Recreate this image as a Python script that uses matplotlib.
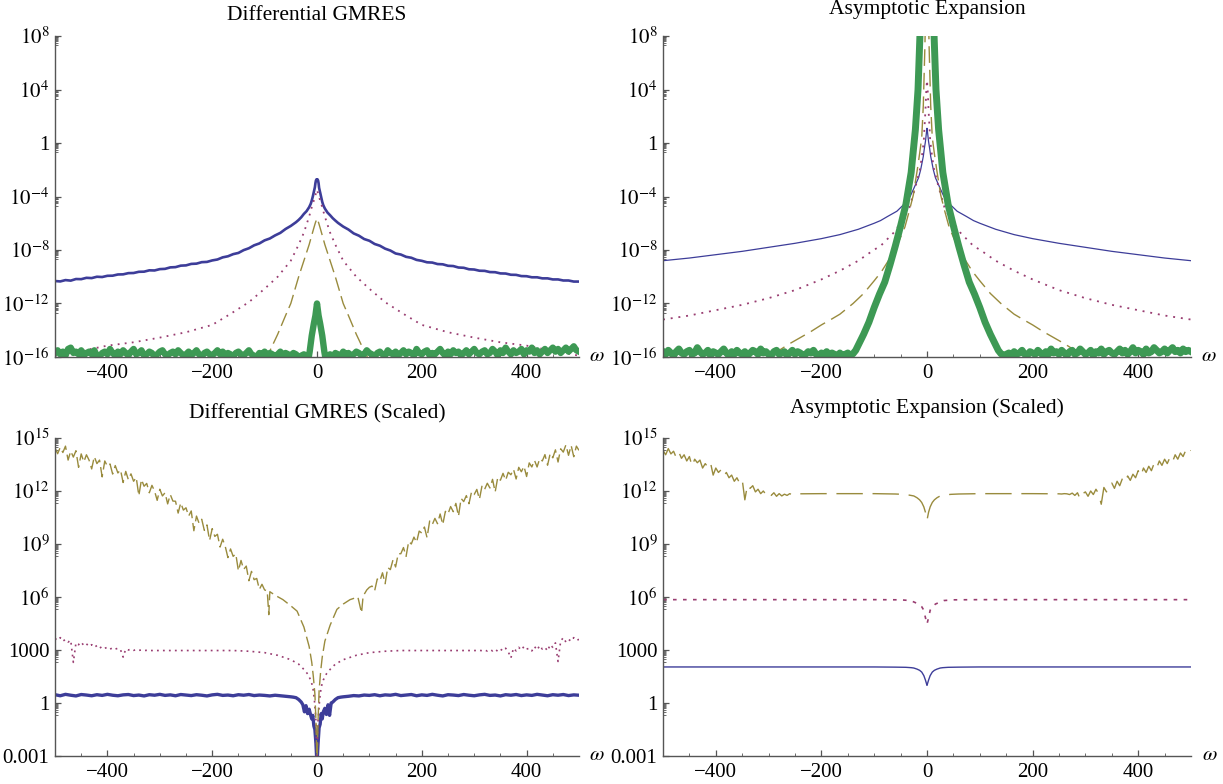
import numpy as np
import matplotlib
matplotlib.use("Agg")
import matplotlib.pyplot as plt
from matplotlib.ticker import FixedLocator, FixedFormatter, NullFormatter

plt.rcParams['font.family'] = ['Liberation Serif', 'DejaVu Serif']
plt.rcParams['mathtext.fontset'] = 'stix'
plt.rcParams['lines.scale_dashes'] = False
plt.rcParams['axes.unicode_minus'] = True

# ---------------- tick labels / titles ----------------
x_major = [-400, -200, 0, 200, 400]
x_labels = ['\u2212400', '\u2212200', '0', '200', '400']
x_minor = [-450, -350, -300, -250, -150, -100, -50, 50, 100, 150, 250, 300, 350, 450]
top_exp = [8, 4, 0, -4, -8, -12, -16]
top_labels = [r'$10^{8}$', r'$10^{4}$', '1', r'$10^{-4}$', r'$10^{-8}$', r'$10^{-12}$', r'$10^{-16}$']
bot_exp = [15, 12, 9, 6, 3, 0, -3]
bot_labels = [r'$10^{15}$', r'$10^{12}$', r'$10^{9}$', r'$10^{6}$', '1000', '1', '0.001']
titles = ['Differential GMRES', 'Asymptotic Expansion',
          'Differential GMRES (Scaled)', 'Asymptotic Expansion (Scaled)']

# ---------------- data (log10 of the plotted values) ----------------
# Top-left: Differential GMRES
tl_blue_x = np.concatenate([np.arange(-500, -59, 10),
                            [-50, -40, -35, -30, -25, -20, -15, -12, -10, -8, -6, -4, -3, -2, -1, 0,
                             1, 2, 3, 4, 6, 8, 10, 12, 15, 20, 25, 30, 35, 40, 50],
                            np.arange(60, 501, 10)])
tl_blue_y = np.array([
    -10.32, -10.35, -10.25, -10.29, -10.17, -10.18, -10.08, -10.10, -10.00, -10.02,
    -9.93, -9.92, -9.83, -9.82, -9.73, -9.72, -9.63, -9.62, -9.52, -9.53,
    -9.43, -9.41, -9.30, -9.28, -9.17, -9.15, -9.04, -9.02, -8.91, -8.89,
    -8.78, -8.71, -8.55, -8.47, -8.31, -8.22, -8.01, -7.87, -7.65, -7.51,
    -7.28, -7.14, -6.91, -6.72, -6.43,
    -6.2, -5.92, -5.75, -5.55, -5.3, -5.1, -4.8, -4.55, -4.3, -4.0, -3.65, -3.3, -3.0, -2.8, -2.72,
    -2.75,
    -2.72, -2.8, -3.0, -3.35, -3.7, -4.05, -4.4, -4.65, -4.9, -5.2, -5.4, -5.62, -5.8, -5.97, -6.25,
    -6.47, -6.76, -6.93, -7.18, -7.31, -7.55, -7.68, -7.90, -8.04, -8.26,
    -8.34, -8.51, -8.58, -8.74, -8.81, -8.92, -8.94, -9.05, -9.07, -9.18,
    -9.20, -9.31, -9.33, -9.44, -9.46, -9.55, -9.56, -9.65, -9.66, -9.75,
    -9.76, -9.85, -9.86, -9.95, -9.96, -10.04, -10.04, -10.12, -10.12, -10.20,
    -10.20, -10.28, -10.28, -10.36, -10.36])

tl_mag_x = [-500, -450, -400, -350, -300, -250, -200, -166, -130, -100, -75, -50, -35, -25, -15, -10, -6, -3, 0,
            3, 6, 10, 15, 25, 35, 50, 75, 100, 130, 166, 200, 250, 300, 350, 400, 450, 500]
tl_mag_y = [-15.9, -15.55, -15.15, -14.9, -14.55, -14.15, -13.6, -12.8, -11.9, -10.9, -10.0, -8.8, -7.6, -6.7,
            -5.5, -4.8, -4.3, -3.9, -3.5,
            -3.9, -4.3, -4.8, -5.5, -6.7, -7.6, -8.8, -10.0, -10.9, -11.9, -12.8, -13.6, -14.15, -14.55, -14.9,
            -15.15, -15.55, -15.9]

tl_olive_x = [-100, -90, -75, -60, -50, -35, -25, -15, -10, -6, -3, 0, 3, 6, 10, 15, 25, 35, 50, 60, 75, 90, 100]
tl_olive_y = [-16.3, -15.55, -14.3, -12.9, -12.0, -10.0, -8.8, -7.6, -6.9, -6.35, -5.95, -5.65,
              -5.95, -6.35, -6.9, -7.6, -8.8, -10.0, -12.0, -12.9, -14.3, -15.55, -16.3]

tl_green_x = np.concatenate([np.arange(-500, -19, 5),
                             [-17, -14, -10, -6, -3, 0, 3, 6, 10, 14, 17],
                             np.arange(20, 501, 5)])
tl_green_y = np.array([
    -15.7, -15.5, -15.8, -15.6, -15.9, -15.4, -15.3, -15.7, -15.6, -15.8,
    -15.5, -15.9, -15.7, -15.6, -15.8, -15.5, -15.9, -16.0, -15.7, -15.6,
    -15.8, -15.4, -15.7, -15.9, -15.6, -15.8, -15.5, -15.7, -15.9, -15.6,
    -15.4, -15.8, -15.7, -15.5, -15.9, -15.8, -15.6, -15.7, -16.0, -15.8,
    -15.6, -15.5, -15.8, -15.9, -15.7, -15.6, -15.8, -15.5, -15.7, -15.9,
    -15.8, -15.6, -15.9, -15.7, -15.5, -15.8, -16.0, -15.7, -15.6, -15.8,
    -15.9, -15.7, -15.5, -15.8, -15.6, -15.9, -15.7, -15.8, -16.0, -15.7,
    -15.6, -15.8, -15.9, -15.7, -15.5, -15.8, -15.9, -16.0, -15.7, -15.8,
    -15.6, -15.9, -15.7, -15.8, -16.0, -15.8, -15.6, -15.9, -15.7, -15.8,
    -15.9, -15.7, -15.8, -16.0, -15.9, -15.8, -15.9,
    -16.3, -15.6, -14.4, -13.5, -12.9, -12.0, -12.9, -13.5, -14.4, -15.6, -16.3,
    -15.9, -15.8, -16.0, -15.7, -15.8, -15.9, -15.6, -15.8, -15.7, -15.9,
    -15.8, -15.6, -15.7, -15.9, -15.8, -15.5, -15.7, -15.8, -16.0, -15.7,
    -15.6, -15.8, -15.9, -15.5, -15.7, -15.8, -15.6, -15.9, -15.7, -15.5,
    -15.8, -15.6, -15.7, -15.9, -15.4, -15.7, -15.8, -15.6, -15.5, -15.9,
    -15.7, -15.8, -15.6, -15.4, -15.7, -15.9, -15.6, -15.8, -15.5, -15.7,
    -15.6, -15.9, -15.7, -15.5, -15.8, -15.6, -15.4, -15.7, -15.8, -15.6,
    -15.5, -15.8, -15.7, -15.4, -15.6, -15.9, -15.5, -15.7, -15.3, -15.6,
    -15.8, -15.5, -15.7, -15.6, -15.4, -15.8, -15.5, -15.6, -15.3, -15.7,
    -15.5, -15.8, -15.6, -15.4, -15.7, -15.5, -15.3, -15.6, -15.4, -15.7,
    -15.5, -15.3, -15.6, -15.4, -15.2, -15.5, -15.6])

# Top-right: Asymptotic Expansion
tr_blue_x = [-500, -450, -400, -350, -300, -250, -200, -165, -130, -100, -88, -75, -57, -44, -32, -25, -16, -12,
             -7, -5, -3, -1, 0, 1, 3, 5, 7, 12, 16, 25, 32, 44, 57, 75, 88, 100, 130, 165, 200, 250, 300, 350,
             400, 450, 500]
tr_blue_y = [-8.8, -8.6, -8.35, -8.1, -7.8, -7.5, -7.15, -6.85, -6.45, -6.0, -5.8, -5.5, -5.1, -4.6, -4.0, -3.4,
             -2.6, -2.0, -1.0, -0.4, 0.1, 0.8, 1.1, 0.8, 0.1, -0.4, -1.0, -2.0, -2.6, -3.4, -4.0, -4.6, -5.1,
             -5.5, -5.8, -6.0, -6.45, -6.85, -7.15, -7.5, -7.8, -8.1, -8.35, -8.6, -8.8]

tr_mag_x = [-500, -450, -400, -350, -300, -250, -200, -165, -130, -101, -88, -63, -45, -33, -22, -13, -9, -6, -5,
            -3, -1.5, 0, 1.5, 3, 5, 6, 9, 13, 22, 33, 45, 63, 88, 101, 130, 165, 200, 250, 300, 350, 400, 450, 500]
tr_mag_y = [-13.2, -12.9, -12.5, -12.1, -11.6, -11.0, -10.2, -9.55, -8.8, -8.0, -7.7, -6.7, -5.7, -4.8, -3.3,
            -1.9, -0.8, 0.2, 1.0, 2.4, 3.8, 4.7, 3.8, 2.4, 1.0, 0.2, -0.8, -1.9, -3.3, -4.8, -5.7, -6.7, -7.7,
            -8.0, -8.8, -9.55, -10.2, -11.0, -11.6, -12.1, -12.5, -12.9, -13.2]

tr_olive_x = [-295, -280, -260, -240, -220, -200, -180, -165, -140, -120, -100, -86, -70, -55, -42, -33, -26, -18,
              -14, -10, -7, -4, -2, 0, 2, 4, 7, 10, 14, 18, 26, 33, 42, 55, 70, 86, 100, 120, 140, 165, 180, 200,
              220, 240, 260, 280, 295]
tr_olive_y = [-16.0, -15.5, -15.0, -14.55, -14.1, -13.6, -13.15, -12.8, -12.0, -11.25, -10.3, -9.6, -8.6, -7.5,
              -6.3, -5.0, -3.9, -1.9, -0.8, 0.4, 2.8, 7.2, 11.0, 14.0, 11.0, 7.2, 2.8, 0.4, -0.8, -1.9, -3.9,
              -5.0, -6.3, -7.5, -8.6, -9.6, -10.3, -11.25, -12.0, -12.8, -13.15, -13.6, -14.1, -14.55, -15.0,
              -15.5, -16.0]

tr_green_x = np.concatenate([np.arange(-500, -144, 5),
                             [-140, -135, -130, -120, -110, -100, -90, -80, -70, -60, -50, -40, -30, -22, -17,
                              -13, -9, -5, 0, 5, 9, 13, 17, 22, 30, 40, 50, 60, 70, 80, 90, 100, 110, 120, 130,
                              135, 140],
                             np.arange(145, 501, 5)])
tr_green_y = np.array([
    -15.6, -15.8, -15.5, -15.7, -15.9, -15.6, -15.4, -15.7, -15.8, -15.6,
    -15.5, -15.8, -15.7, -15.3, -15.6, -15.8, -15.7, -15.5, -15.9, -15.6,
    -15.7, -15.8, -15.6, -15.4, -15.7, -15.9, -15.6, -15.8, -15.5, -15.7,
    -15.8, -15.6, -15.9, -15.7, -15.5, -15.6, -15.8, -15.4, -15.7, -15.6,
    -15.8, -15.9, -15.6, -15.5, -15.8, -15.7, -15.6, -15.9, -15.7, -15.5,
    -15.8, -15.6, -15.7, -15.9, -15.8, -15.6, -15.7, -15.5, -15.8, -15.9,
    -15.7, -15.8, -15.6, -15.9, -15.7, -15.8, -16.0, -15.7, -15.9, -15.8,
    -15.7, -15.9,
    -15.75, -15.5, -15.1, -14.3, -13.4, -12.3, -11.3, -10.4, -9.1, -7.7, -6.2, -4.6, -2.2, 1.0, 4.0,
    8.4, 13.0, 18.0, 22.0, 18.0, 13.0, 8.4, 4.0, 1.0, -2.2, -4.6, -6.2, -7.7, -9.1, -10.4, -11.3, -12.3,
    -13.4, -14.3, -15.1, -15.5, -15.75,
    -15.9, -15.8, -15.7, -15.9, -15.6, -15.8, -15.7, -15.5, -15.8, -15.9,
    -15.6, -15.7, -15.8, -15.5, -15.7, -15.9, -15.6, -15.8, -15.4, -15.7,
    -15.6, -15.8, -15.5, -15.7, -15.9, -15.6, -15.5, -15.8, -15.7, -15.4,
    -15.6, -15.8, -15.7, -15.5, -15.9, -15.6, -15.7, -15.4, -15.8, -15.6,
    -15.5, -15.7, -15.8, -15.6, -15.4, -15.7, -15.5, -15.8, -15.6, -15.3,
    -15.7, -15.5, -15.6, -15.8, -15.4, -15.7, -15.6, -15.3, -15.5, -15.7,
    -15.6, -15.4, -15.7, -15.5, -15.3, -15.6, -15.5, -15.7, -15.4, -15.6,
    -15.5, -15.6])

# Bottom-left: Differential GMRES (Scaled)
bl_blue_x = np.concatenate([np.arange(-500, -59, 10),
                            [-50, -45, -40, -35, -30, -27, -24, -21, -18, -15, -12, -10, -8, -6, -4, -2, 0,
                             2, 4, 6, 8, 10, 12, 15, 18, 21, 24, 27, 30, 35, 40, 45, 50],
                            np.arange(60, 501, 10)])
bl_blue_y = np.array([
    0.47, 0.41, 0.49, 0.44, 0.40, 0.48, 0.45, 0.41, 0.47, 0.43,
    0.49, 0.44, 0.41, 0.46, 0.48, 0.42, 0.45, 0.40, 0.47, 0.44,
    0.49, 0.43, 0.46, 0.41, 0.48, 0.45, 0.42, 0.47, 0.44, 0.40,
    0.46, 0.49, 0.43, 0.45, 0.41, 0.47, 0.44, 0.48, 0.42, 0.45,
    0.43, 0.40, 0.44, 0.41, 0.38,
    0.35, 0.33, 0.3, 0.2, 0.05, -0.1, -0.5, -0.15, -0.6, -0.35, -0.7, -0.9, -0.7, -1.3, -1.5, -2.3, -3.5,
    -2.3, -1.4, -1.2, -0.6, -0.9, -0.5, -0.3, -0.65, -0.1, -0.7, 0.0, 0.05, 0.2, 0.3, 0.33, 0.35,
    0.38, 0.42, 0.40, 0.45, 0.43, 0.47, 0.41, 0.46, 0.44, 0.49,
    0.42, 0.45, 0.48, 0.41, 0.46, 0.43, 0.49, 0.44, 0.40, 0.47,
    0.45, 0.42, 0.48, 0.44, 0.41, 0.46, 0.49, 0.43, 0.45, 0.40,
    0.47, 0.44, 0.48, 0.42, 0.46, 0.43, 0.49, 0.45, 0.41, 0.47,
    0.44, 0.48, 0.42, 0.46, 0.44])

bl_mag_x = np.concatenate([np.arange(-500, -300, 5),
                           [-300, -250, -200, -160, -130, -100, -75, -50, -35, -25, -18, -12, -8, -5, -2, 0,
                            2, 5, 8, 12, 18, 25, 35, 50, 75, 100, 130, 160, 200, 250, 300],
                           np.arange(305, 501, 5)])
bl_mag_y = np.array([
    3.65, 3.55, 3.70, 3.50, 3.60, 3.45, 3.55, 2.30, 3.40, 3.30,
    3.45, 3.25, 3.35, 3.20, 3.30, 3.15, 3.25, 3.10, 3.20, 3.10,
    3.15, 3.05, 3.12, 3.05, 3.10, 3.02, 2.60, 3.05, 3.00, 3.05,
    2.98, 3.02, 2.98, 3.00, 2.97, 2.98, 2.97, 2.97, 2.97, 2.97,
    2.97, 2.97, 2.97, 2.97, 2.93, 2.85, 2.7, 2.45, 2.2, 1.9, 1.65, 1.3, 0.9, 0.2, -1.0, -3.5,
    -1.0, 0.2, 0.9, 1.3, 1.65, 1.9, 2.2, 2.45, 2.7, 2.85, 2.93, 2.97, 2.97, 2.97, 2.97,
    2.97, 2.98, 2.96, 3.00, 2.94, 3.02, 2.95, 3.05, 2.92, 3.05,
    2.95, 3.10, 2.90, 2.55, 3.10, 2.95, 3.15, 3.00, 3.20, 3.05,
    3.10, 2.95, 3.20, 3.00, 3.25, 3.05, 3.15, 2.95, 3.30, 3.15,
    3.40, 2.35, 3.50, 3.70, 3.45, 3.60, 3.50, 3.70, 3.55, 3.60])

bl_olive_x = np.concatenate([np.arange(-500, -99, 5),
                             [-95, -92, -90, -80, -65, -50, -38, -25, -15, -10, -7, -4, -2, 0,
                              2, 4, 7, 10, 15, 25, 38, 50, 63, 78, 85, 88, 95],
                             np.arange(100, 501, 5)])
bl_olive_y = np.array([
    14.45, 14.11, 14.47, 14.18, 14.54, 13.75, 14.26, 13.92, 14.28, 13.34,
    14.10, 13.65, 14.05, 13.75, 13.25, 13.95, 13.55, 13.75, 12.80, 13.70,
    13.40, 13.53, 12.96, 13.44, 13.02, 13.20, 12.48, 13.11, 12.64, 12.97,
    12.55, 12.77, 11.73, 12.65, 12.27, 12.43, 11.90, 12.32, 12.00, 11.47,
    12.10, 11.72, 11.90, 11.27, 11.80, 11.43, 11.42, 10.75, 11.33, 10.92,
    11.05, 10.58, 10.87, 9.75, 10.58, 10.17, 10.40, 9.77, 10.08, 9.20,
    9.87, 9.43, 9.55, 8.83, 9.27, 8.85, 8.23, 8.72, 8.30, 8.44,
    7.48, 8.07, 7.56, 7.75, 6.92, 7.45, 6.98, 7.05, 6.43, 6.72,
    6.40,
    6.35, 5.0, 6.3, 6.1, 5.85, 5.5, 5.2, 4.3, 3.2, 2.3, 1.5, 0.5, -1.0, -3.5,
    -1.0, 0.7, 1.8, 2.6, 3.5, 4.4, 5.3, 5.6, 5.85, 6.0, 5.1, 6.05, 6.4,
    6.55, 6.62, 6.35, 7.02, 6.90, 7.37, 6.75, 7.67, 7.55, 8.10,
    7.70, 8.45, 8.45, 8.80, 8.30, 9.15, 9.00, 9.39, 9.09, 9.73,
    9.62, 9.96, 9.36, 10.30, 10.10, 10.45, 10.15, 10.70, 10.10, 10.85,
    10.70, 11.12, 10.83, 11.30, 10.57, 11.58, 11.40, 11.74, 11.28, 11.96,
    11.80, 12.09, 11.53, 12.31, 12.10, 12.44, 12.17, 12.66, 11.94, 12.78,
    12.61, 13.00, 12.61, 13.06, 12.92, 13.23, 12.68, 13.34, 13.09, 13.40,
    12.82, 13.59, 13.36, 13.74, 13.36, 13.83, 13.70, 14.06, 13.46, 14.12,
    13.88, 14.33, 13.64, 14.39, 14.20, 14.61, 14.02, 14.58, 13.94, 14.54,
    14.30])

# Bottom-right: Asymptotic Expansion (Scaled)
br_blue_x = [-500, -300, -100, -60, -40, -30, -25, -19, -14, -10, -6, -3, -1, 0,
             1, 3, 6, 10, 14, 19, 25, 30, 40, 60, 100, 300, 500]
br_blue_y = [2.04, 2.04, 2.04, 2.03, 2.02, 2.0, 1.98, 1.92, 1.85, 1.75, 1.55, 1.3, 1.1, 1.0,
             1.1, 1.3, 1.55, 1.75, 1.85, 1.92, 1.98, 2.0, 2.02, 2.03, 2.04, 2.04, 2.04]

br_mag_x = [-500, -100, -50, -32, -25, -16, -10, -6, -3.5, -1.5, 0, 1.5, 3.5, 6, 10, 16, 25, 32, 50, 100, 500]
br_mag_y = [5.85, 5.85, 5.84, 5.8, 5.72, 5.6, 5.45, 5.25, 4.9, 4.65, 4.47, 4.65, 4.9, 5.25, 5.45, 5.6, 5.72,
            5.8, 5.84, 5.85, 5.85]

br_olive_x = np.concatenate([np.arange(-500, -249, 5),
                             [-245, -200, -150, -100, -60, -45, -36, -25, -19, -14, -10, -6, -3, -1, 0,
                              1, 3, 6, 10, 14, 19, 25, 36, 45, 60, 100, 150, 200, 245],
                             np.arange(250, 501, 5)])
br_olive_y = np.array([
    14.30, 14.05, 14.40, 14.10, 14.25, 13.90, 14.20, 13.85, 14.05, 13.70,
    13.95, 13.40, 13.80, 13.60, 13.75, 13.30, 13.55, 13.35, 13.60, 12.90,
    13.30, 13.05, 13.20, 12.85, 13.05, 12.75, 12.90, 12.55, 12.75, 12.45,
    12.65, 11.50, 12.35, 12.15, 12.30, 11.95, 12.10, 11.85, 12.00, 11.80,
    11.95, 11.75, 11.90, 11.70, 11.85, 11.72, 11.82, 11.75, 11.85, 11.78,
    11.84,
    11.84, 11.85, 11.85, 11.85, 11.83, 11.81, 11.78, 11.72, 11.62, 11.5, 11.35, 11.1, 10.8, 10.5, 10.35,
    10.5, 10.8, 11.1, 11.35, 11.5, 11.62, 11.72, 11.78, 11.81, 11.83, 11.85, 11.85, 11.85, 11.84,
    11.84, 11.83, 11.85, 11.84, 11.80, 11.88, 11.75, 11.90, 11.55, 11.85,
    11.95, 11.70, 12.00, 11.80, 12.10, 11.85, 11.25, 12.20, 11.95, 12.35,
    12.45, 12.15, 12.55, 12.30, 12.70, 12.50, 12.85, 12.60, 12.95, 12.75,
    13.15, 12.85, 13.30, 13.05, 13.40, 13.15, 13.55, 13.30, 13.70, 13.45,
    13.80, 13.55, 13.90, 13.65, 14.05, 13.80, 14.15, 13.95, 14.30, 14.10,
    14.30])

# ---------------- styling ----------------
BLUE = '#3D3D99'
MAG = '#993D71'
OLIVE = '#998B3D'
GREEN = '#3D9954'
AXC = '#555555'

W, H = 1223, 784
fig = plt.figure(figsize=(W / 100, H / 100), dpi=100)


def px_axes(left, top, right, bottom):
    return fig.add_axes([left / W, 1 - bottom / H, (right - left) / W, (bottom - top) / H])


ax_tl = px_axes(55, 36, 579, 357)
ax_tr = px_axes(663, 36, 1191, 357)
ax_bl = px_axes(55, 438, 579, 756)
ax_br = px_axes(663, 438, 1191, 756)


def style(ax, exps, labels, lo, hi):
    ax.set_xlim(-500, 500)
    ax.set_yscale('log')
    ax.set_ylim(10.0 ** lo, 10.0 ** hi)
    for s in ['top', 'right']:
        ax.spines[s].set_visible(False)
    for s in ['left', 'bottom']:
        ax.spines[s].set_color(AXC)
        ax.spines[s].set_linewidth(1.0)
    ax.xaxis.set_major_locator(FixedLocator(x_major))
    ax.xaxis.set_major_formatter(FixedFormatter(x_labels))
    ax.xaxis.set_minor_locator(FixedLocator(x_minor))
    ax.yaxis.set_major_locator(FixedLocator([10.0 ** e for e in exps]))
    ax.yaxis.set_major_formatter(FixedFormatter(labels))
    ax.yaxis.set_minor_locator(FixedLocator([j * 10.0 ** (e - 1) for e in exps for j in range(2, 10)]))
    ax.yaxis.set_minor_formatter(NullFormatter())
    ax.tick_params(which='major', direction='in', length=4.5, width=0.9, color=AXC,
                   labelsize=15, pad=4)
    ax.tick_params(axis='x', which='major', pad=5)
    ax.tick_params(which='minor', direction='in', length=2.3, width=0.6, color=AXC)
    ax.patch.set_alpha(0)


def L(v):
    return 10.0 ** np.asarray(v, dtype=float)


# top-left
ax_tl.plot(tl_blue_x, L(tl_blue_y), color=BLUE, lw=1.9)
ax_tl.plot(tl_mag_x, L(tl_mag_y), color=MAG, lw=1.3, ls=(0, (1.3, 3.8)))
ax_tl.plot(tl_olive_x, L(tl_olive_y), color=OLIVE, lw=1.0, ls=(0, (10, 4)))
ax_tl.plot(tl_green_x, L(tl_green_y), color=GREEN, lw=4.6, solid_joinstyle='round')
style(ax_tl, top_exp, top_labels, -16, 8)

# top-right
ax_tr.plot(tr_blue_x, L(tr_blue_y), color=BLUE, lw=0.9)
ax_tr.plot(tr_mag_x, L(tr_mag_y), color=MAG, lw=1.3, ls=(0, (1.4, 4.2)))
ax_tr.plot(tr_olive_x, L(tr_olive_y), color=OLIVE, lw=1.0, ls=(0, (12, 5)))
ax_tr.plot(tr_green_x, L(tr_green_y), color=GREEN, lw=5.0, solid_joinstyle='round')
style(ax_tr, top_exp, top_labels, -16, 8)

# bottom-left
ax_bl.plot(bl_blue_x, L(bl_blue_y), color=BLUE, lw=2.4)
ax_bl.plot(bl_mag_x, L(bl_mag_y), color=MAG, lw=1.2, ls=(0, (1.3, 3.0)))
ax_bl.plot(bl_olive_x, L(bl_olive_y), color=OLIVE, lw=1.0, ls=(0, (9, 3.5)))
style(ax_bl, bot_exp, bot_labels, -3, 15)

# bottom-right
ax_br.plot(br_blue_x, L(br_blue_y), color=BLUE, lw=1.0)
ax_br.plot(br_mag_x, L(br_mag_y), color=MAG, lw=1.2, ls=(0, (2.6, 4.6)))
ax_br.plot(br_olive_x, L(br_olive_y), color=OLIVE, lw=1.0, ls=(0, (19, 7)))
style(ax_br, bot_exp, bot_labels, -3, 15)

# titles
for (cx, by), t in zip([(317, 20), (927, 14), (317, 418), (927, 413)], titles):
    fig.text(cx / W, 1 - by / H, t, ha='center', va='baseline', fontsize=15.5)

# omega labels
for ax, dx in [(ax_tl, 18), (ax_tr, 18), (ax_bl, 18), (ax_br, 19)]:
    ax.annotate(r'$\omega$', xy=(1, 0), xycoords='axes fraction', xytext=(dx, 0),
                textcoords='offset pixels', ha='center', va='center', fontsize=15,
                annotation_clip=False)

fig.savefig('out.png', dpi=100)
